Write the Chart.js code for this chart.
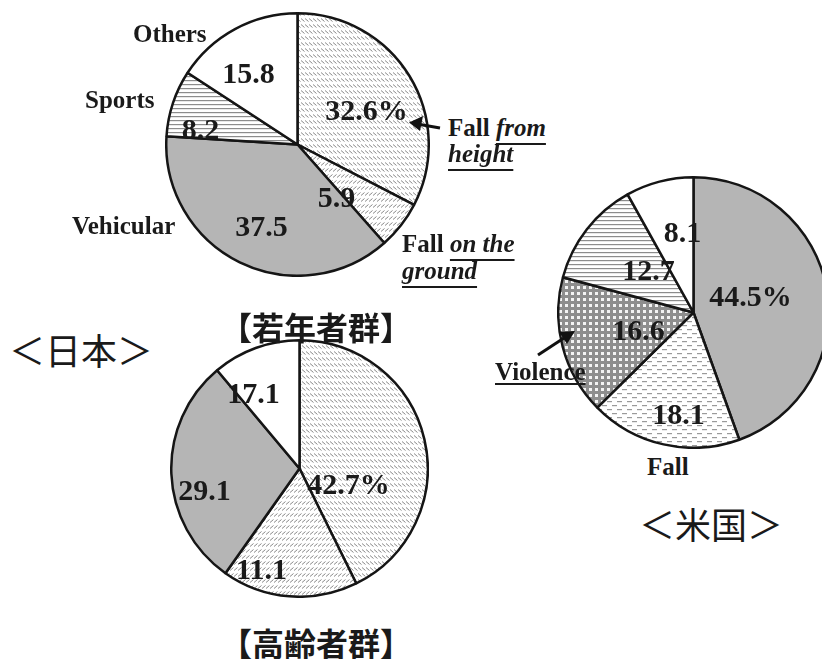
<!DOCTYPE html>
<html>
<head>
<meta charset="utf-8">
<script src="https://cdn.jsdelivr.net/npm/chart.js@4.4.0/dist/chart.umd.min.js"></script>
<style>
  html, body { margin: 0; padding: 0; background: #fff; }
  body { width: 822px; height: 659px; position: relative; overflow: hidden; }
  canvas.pie { position: absolute; }
  .lbl {
    position: absolute; white-space: nowrap; line-height: 1;
    font-family: "Liberation Serif", "Times New Roman", serif;
    font-weight: bold; font-size: 25px; color: #1a1a1a;
  }
  .lbl i { text-decoration: underline; text-decoration-thickness: 1.5px;
           text-underline-offset: 7px; text-decoration-skip-ink: none; }
  .cjk {
    position: absolute; white-space: nowrap; line-height: 1; color: #1a1a1a;
    font-family: "Noto Sans CJK JP", "Noto Sans CJK SC", sans-serif;
    transform: translate(-50%, -50%);
  }
  svg { position: absolute; left: 0; top: 0; }
</style>
</head>
<body>

<canvas id="youngPie" class="pie"></canvas>
<canvas id="elderlyPie" class="pie"></canvas>
<canvas id="usPie" class="pie"></canvas>

<div class="lbl" style="left:133px; top:21px;">Others</div>
<div class="lbl" style="left:85px; top:87px;">Sports</div>
<div class="lbl" style="left:72px; top:213px;">Vehicular</div>
<div class="lbl" style="left:448px; top:115px;">Fall <i>from</i></div>
<div class="lbl" style="left:448px; top:141px;"><i>height</i></div>
<div class="lbl" style="left:402px; top:231px;">Fall <i>on the</i></div>
<div class="lbl" style="left:402px; top:258px;"><i>ground</i></div>
<div class="lbl" style="left:495px; top:359px; text-decoration: underline; text-decoration-thickness: 1.5px; text-underline-offset: 3px;">Violence</div>
<div class="lbl" style="left:647px; top:454px;">Fall</div>

<div class="cjk" style="left:316px; top:326px; font-size:32px; font-weight:bold;">【若年者群】</div>
<div class="cjk" style="left:316px; top:642px; font-size:32px; font-weight:bold;">【高齢者群】</div>
<div class="cjk" style="left:81px; top:349px; font-size:36px;">＜日本＞</div>
<div class="cjk" style="left:711px; top:523px; font-size:36px;">＜米国＞</div>

<svg width="822" height="659">
  <!-- arrow to "Fall from height" slice -->
  <line x1="440" y1="128" x2="420" y2="124.5" stroke="#111" stroke-width="3"/>
  <polygon points="409,122.5 423,116 420,131" fill="#111"/>
  <!-- arrow to Violence slice -->
  <line x1="538" y1="355" x2="564" y2="338" stroke="#111" stroke-width="3"/>
  <polygon points="575,331 559,332 567,344" fill="#111"/>
</svg>

<script>
// ---- data ----
const youngCategories = ['Fall from height', 'Fall on the ground', 'Vehicular', 'Sports', 'Others'];
const youngValues = [32.6, 5.9, 37.5, 8.2, 15.8];
const youngLabels = ['32.6%', '5.9', '37.5', '8.2', '15.8'];

// slice sizes as drawn in the source; the printed 11.1 / 17.1 sit in the
// opposite slices, so the printed text is kept separately
const elderlyCategories = ['Fall from height', 'Fall on the ground', 'Vehicular', 'Others'];
const elderlyValues = [42.7, 17.1, 29.1, 11.1];
const elderlyLabels = ['42.7%', '11.1', '29.1', '17.1'];

const usCategories = ['Vehicular', 'Fall', 'Violence', 'Sports', 'Others'];
const usValues = [44.5, 18.1, 16.6, 12.7, 8.1];
const usLabels = ['44.5%', '18.1', '16.6', '12.7', '8.1'];

// ---- fill patterns ----
function makePattern(w, h, draw) {
    const c = document.createElement('canvas');
    c.width = w; c.height = h;
    const g = c.getContext('2d');
    draw(g, w, h);
    return g.createPattern(c, 'repeat');
}

const FILLS = {
    white: '#ffffff',
    gray: '#b5b5b5',
    // rows of "\" strokes
    hatchBack: makePattern(4, 6, (g) => {
        g.fillStyle = '#fff'; g.fillRect(0, 0, 4, 6);
        g.strokeStyle = '#8a8a8a'; g.lineWidth = 1;
        g.beginPath(); g.moveTo(0, 0.5); g.lineTo(3.5, 3.5); g.stroke();
    }),
    // rows of "/" strokes
    hatchFwd: makePattern(4, 6, (g) => {
        g.fillStyle = '#fff'; g.fillRect(0, 0, 4, 6);
        g.strokeStyle = '#8a8a8a'; g.lineWidth = 1;
        g.beginPath(); g.moveTo(0, 3.5); g.lineTo(3.5, 0.5); g.stroke();
    }),
    hlines: makePattern(4, 4, (g) => {
        g.fillStyle = '#fff'; g.fillRect(0, 0, 4, 4);
        g.fillStyle = '#8c8c8c'; g.fillRect(0, 0, 4, 1.2);
    }),
    dashes: makePattern(10, 8, (g) => {
        g.fillStyle = '#fff'; g.fillRect(0, 0, 10, 8);
        g.fillStyle = '#9a9a9a';
        g.fillRect(0, 1, 5, 1.2);
        g.fillRect(5, 5, 5, 1.2);
    }),
    grid: makePattern(6, 6, (g) => {
        g.fillStyle = '#8e8e8e'; g.fillRect(0, 0, 6, 6);
        g.fillStyle = '#f4f4f4'; g.fillRect(2, 2, 3, 3);
    })
};

// ---- value labels inside the pies ----
const sliceLabelPlugin = {
    id: 'sliceLabels',
    afterDatasetsDraw(chart, args, opts) {
        const ctx = chart.ctx;
        const arcs = chart.getDatasetMeta(0).data;
        ctx.save();
        ctx.font = 'bold 30px "Liberation Serif", "Times New Roman", serif';
        ctx.fillStyle = '#1a1a1a';
        ctx.textAlign = 'center';
        ctx.textBaseline = 'middle';
        arcs.forEach((arc, i) => {
            const off = opts.offsets[i];
            ctx.fillText(opts.texts[i], arc.x + off[0], arc.y + off[1] + 1);
        });
        ctx.restore();
    }
};

function makePie(id, cx, cy, r, categories, values, fills, texts, offsets) {
    const size = 2 * r + 3;
    const el = document.getElementById(id);
    el.width = size; el.height = size;
    el.style.width = size + 'px';
    el.style.height = size + 'px';
    el.style.left = (cx - size / 2) + 'px';
    el.style.top = (cy - size / 2) + 'px';
    return new Chart(el, {
        type: 'pie',
        data: {
            labels: categories,
            datasets: [{
                data: values,
                backgroundColor: fills,
                borderColor: '#151515',
                borderWidth: 2.5
            }]
        },
        options: {
            responsive: false,
            animation: false,
            devicePixelRatio: 1,
            layout: { padding: 0 },
            plugins: {
                legend: { display: false },
                tooltip: { enabled: false },
                sliceLabels: { texts: texts, offsets: offsets }
            }
        },
        plugins: [sliceLabelPlugin]
    });
}

makePie('youngPie', 297, 144, 131, youngCategories, youngValues,
    [FILLS.hatchBack, FILLS.hatchFwd, FILLS.gray, FILLS.hlines, FILLS.white],
    youngLabels, [[69, -33], [39, 54], [-36, 83], [-97, -14], [-49, -70]]);

makePie('elderlyPie', 299, 468, 128, elderlyCategories, elderlyValues,
    [FILLS.hatchBack, FILLS.hatchFwd, FILLS.gray, FILLS.white],
    elderlyLabels, [[49, 17], [-38, 102], [-95, 23], [-46, -74]]);

makePie('usPie', 693, 312, 135, usCategories, usValues,
    [FILLS.gray, FILLS.dashes, FILLS.grid, FILLS.hlines, FILLS.white],
    usLabels, [[57, -15], [-15, 103], [-55, 19], [-45, -41], [-11, -79]]);
</script>
</body>
</html>
